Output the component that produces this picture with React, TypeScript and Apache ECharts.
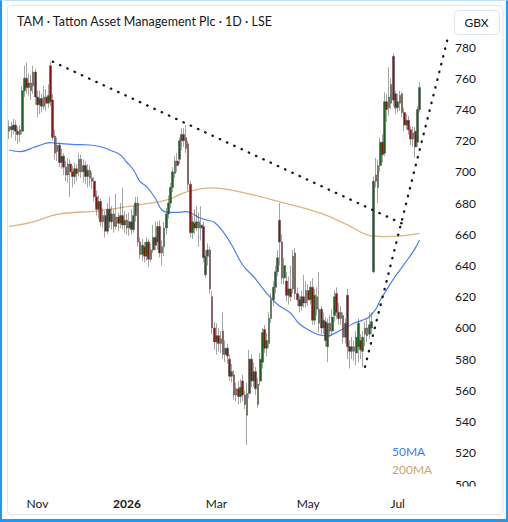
import React, { useEffect, useRef } from 'react';
import * as echarts from 'echarts';

const START_DATE = '2025-10-15';
const HOLIDAYS = ['2025-12-25', '2025-12-26', '2026-01-01', '2026-04-03', '2026-04-06', '2026-05-04', '2026-05-25'];
const TOTAL_SLOTS = 202;

// [open, close, low, high]
const ohlc: number[][] = [
  [726, 729, 721, 733], [729, 727, 722, 732], [727, 730, 724, 734], [730, 726, 720, 733], [726, 724, 718, 729],
  [724, 727, 719, 730], [726, 752, 724, 755], [752, 760, 748, 768], [760, 754, 750, 770], [754, 757, 749, 763],
  [757, 752, 746, 762], [755, 764, 750, 768], [764, 748, 743, 766], [748, 743, 735, 752], [743, 747, 737, 752],
  [747, 742, 738, 750], [742, 748, 740, 755], [748, 744, 739, 753], [744, 749, 741, 756], [768, 745, 742, 770.5],
  [746, 722, 720, 750], [723, 712, 708, 727], [713, 717, 707, 722], [717, 706, 703, 719], [706, 710, 702, 715],
  [710, 703, 698, 712], [703, 698, 694, 707], [698, 705, 693, 709], [705, 700, 684, 708], [700, 697, 690, 704],
  [697, 702, 692, 706], [702, 699, 694, 705], [700, 708, 697, 712], [708, 700, 696, 711], [700, 704, 693, 708],
  [704, 697, 692, 707], [697, 701, 690, 705], [701, 696, 691, 704], [696, 694, 689, 700], [694, 684, 681, 697],
  [684, 676, 672, 688], [676, 681, 670, 685], [681, 668, 665, 683], [668, 672, 664, 677], [672, 662, 658, 675],
  [662, 676, 660, 680], [676, 668, 664, 684], [668, 673, 663, 678], [673, 665, 661, 676], [665, 671, 663, 686],
  [671, 667, 662, 674], [667, 672, 664, 680], [672, 666, 663, 690], [666, 669, 661, 675], [669, 664, 660, 673],
  [664, 668, 659, 674], [668, 663, 660, 676], [663, 672, 661, 678], [672, 680, 668, 684], [680, 655, 652, 684],
  [655, 647, 644, 658], [647, 653, 643, 657], [652, 646, 642, 655], [646, 655, 643, 658], [655, 644, 639, 657],
  [644, 650, 642, 654], [650, 658, 648, 666], [658, 653, 650, 668], [655, 665, 650, 668], [665, 648, 645, 669],
  [648, 652, 640, 656], [652, 664, 646, 668], [664, 673, 660, 677], [673, 680, 670, 685], [680, 690, 677, 693],
  [690, 700, 687, 703], [699, 707, 696, 710], [707, 704, 700, 712], [708, 720, 705, 722], [720, 724, 714, 728],
  [724, 720, 716, 728], [722, 715, 712, 730], [718, 692, 688, 720], [692, 661, 658, 694], [661, 668, 657, 672],
  [667, 664, 660, 676], [664, 668, 662, 678], [668, 664, 652, 674], [664, 666, 656, 678], [665, 645, 642, 668],
  [634, 646, 632, 650], [646, 650, 640, 654], [650, 625, 622, 652], [620, 600, 596, 624], [600, 591, 586, 604],
  [591, 595, 583, 603], [595, 590, 585, 600], [590, 593, 584, 598], [598, 583, 580, 610], [583, 587, 578, 592],
  [587, 582, 577, 590], [580, 569, 566, 583], [569, 572, 565, 577], [570, 557, 554, 573], [557, 561, 553, 565],
  [561, 556, 551, 566], [556, 562, 552, 567], [566, 557, 553, 570], [557, 551, 548, 560], [544, 558, 525, 565],
  [558, 580, 555, 586], [580, 566, 562, 583], [566, 572, 562, 578], [572, 561, 557, 575], [551, 564, 549, 568],
  [566, 580, 563, 584], [578, 597, 574, 600], [599, 587, 584, 602], [587, 592, 582, 597], [590, 606, 587, 610],
  [606, 618, 603, 622], [618, 626, 614, 630], [626, 636, 622, 640], [636, 645, 633, 650], [669, 655, 640, 680],
  [655, 632, 628, 660], [632, 640, 628, 645], [630, 621, 617, 636], [621, 625, 615, 633], [625, 620, 617, 640],
  [625, 646, 622, 650], [648, 622, 618, 651], [622, 618, 614, 626], [618, 614, 610, 621], [614, 620, 611, 624],
  [620, 616, 613, 634], [616, 624, 613, 630], [624, 618, 614, 628], [618, 626, 615, 630], [626, 605, 602, 632],
  [605, 621, 602, 625], [620, 612, 608, 626], [603, 612, 597, 636], [612, 600, 596, 614], [600, 605, 596, 610],
  [604, 592, 588, 607], [588, 603, 578, 606], [603, 598, 594, 608], [598, 607, 595, 612], [608, 620, 604, 624],
  [622, 610, 606, 626], [610, 606, 602, 616], [606, 610, 602, 614], [608, 594, 590, 610], [594, 603, 590, 606],
  [621, 588, 580, 625], [588, 585, 574, 592], [585, 588, 580, 594], [588, 585, 579, 592], [584, 594, 576, 598],
  [588, 603, 578, 606], [592, 586, 580, 596], [585, 594, 575, 598], [600, 596, 588, 604], [595, 600, 591, 606],
  [596, 602, 593, 610], [600, 604, 596, 610], [636, 694, 635, 697], [698, 694, 690, 709], [690, 704, 680, 708],
  [704, 719, 700, 722], [719, 711, 706, 724], [712, 745, 710, 751], [745, 740, 732, 750], [741, 748, 736, 767],
  [744, 756, 740, 760], [774, 746, 742, 776], [750, 741, 737, 752], [741, 745, 738, 750], [744, 749, 739, 752],
  [750, 738, 735, 751], [738, 730, 726, 741], [730, 733, 727, 737], [733, 727, 724, 736], [727, 721, 717, 729],
  [721, 725, 716, 729], [726, 716, 709, 729], [719, 740, 716, 742], [740, 754, 738, 757.6],
];

// [bar index, value] readings of the moving averages
const ma50Points: number[][] = [
  [0, 714], [5, 713], [12, 716], [19, 718.7], [22, 718.3], [30, 717.5], [37, 717.2], [42, 716.1], [47, 713.5],
  [51, 710.8], [54, 706], [57, 701.2], [60, 693.7], [63, 690.5], [67, 683.1], [70, 675.6], [74, 674], [78, 674.1],
  [81, 674.5], [85, 672.4], [87, 670.6], [91, 669], [94, 667.7], [98, 661.7], [102, 653.1], [107, 640.3],
  [112, 632.8], [115, 627.5], [118, 622.2], [123, 615], [129, 609.4], [133, 602.5], [140, 596.6], [143, 595.3],
  [146, 594.8], [149, 596.5], [152, 598.7], [158, 603], [162, 605], [165, 607.2], [168, 612], [170, 617.9],
  [173, 624.5], [176, 631.3], [180, 639], [183, 644.8], [186, 651], [188, 656.3],
];
const ma200Points: number[][] = [
  [0, 665], [11, 668], [22, 672.8], [42, 675.2], [60, 679], [71, 681.5], [76, 684], [82, 687.5], [93, 689.8],
  [103, 688], [112, 685.2], [125, 680.5], [143, 673.4], [155, 666], [166, 659], [173, 658.5], [188, 660.6],
];

const trendDown: number[][] = [[20, 770.6], [182, 665.6]];
const trendUp: number[][] = [[163, 575], [201, 786]];

const MONTH_LABELS: Record<number, string> = { 10: 'Nov', 0: '2026', 2: 'Mar', 4: 'May', 6: 'Jul' };
const Y_MIN = 500;
const Y_MAX = 780;
const Y_STEP = 20;

function tradingDays(start: string, n: number): string[] {
  const out: string[] = [];
  const d = new Date(start + 'T00:00:00Z');
  while (out.length < n) {
    const dow = d.getUTCDay();
    const iso = d.toISOString().slice(0, 10);
    if (dow !== 0 && dow !== 6 && !HOLIDAYS.includes(iso)) out.push(iso);
    d.setUTCDate(d.getUTCDate() + 1);
  }
  return out;
}

export default function App() {
  const ref = useRef<HTMLDivElement>(null);
  useEffect(() => {
    if (!ref.current) return;
    const chart = echarts.init(ref.current, undefined, { renderer: 'svg' });
    const dates = tradingDays(START_DATE, TOTAL_SLOTS);
    const labelAt: Record<number, string> = {};
    let prev = -1;
    dates.forEach((d, i) => {
      const m = parseInt(d.slice(5, 7), 10) - 1;
      if (i > 0 && m !== prev && MONTH_LABELS[m] !== undefined) labelAt[i] = MONTH_LABELS[m];
      prev = m;
    });
    const lastClose = ohlc[ohlc.length - 1][1];
    const font = 'Lato';
    chart.setOption({
      animation: false,
      backgroundColor: '#ffffff',
      grid: { left: 8, right: 59, top: 47, bottom: 38 },
      xAxis: {
        type: 'category',
        data: dates,
        boundaryGap: true,
        axisLine: { show: false },
        axisTick: { show: false },
        splitLine: { show: false },
        axisLabel: {
          interval: (i: number) => labelAt[i] !== undefined,
          formatter: (_v: string, i: number) => {
            const t = labelAt[i] || '';
            return t === '2026' ? '{b|2026}' : t;
          },
          color: '#131722',
          fontSize: 12,
          fontFamily: font,
          margin: 13,
          rich: { b: { fontWeight: 'bold', fontSize: 12, fontFamily: font, color: '#131722' } },
        },
      },
      yAxis: {
        type: 'value',
        position: 'right',
        min: Y_MIN,
        max: Y_MAX,
        interval: Y_STEP,
        axisLine: { show: false },
        axisTick: { show: false },
        splitLine: { show: false },
        axisLabel: { color: '#131722', fontSize: 12, fontFamily: font, margin: 6 },
      },
      series: [
        {
          type: 'line',
          data: ma200Points,
          smooth: 0.4,
          showSymbol: false,
          lineStyle: { color: '#dcb382', width: 1.3 },
          z: 1,
        },
        {
          type: 'line',
          data: ma50Points,
          smooth: 0.4,
          showSymbol: false,
          lineStyle: { color: '#4b7ff2', width: 1.2 },
          z: 1,
        },
        {
          type: 'candlestick',
          data: ohlc,
          barWidth: 2.2,
          z: 3,
          itemStyle: {
            color: '#15651f',
            color0: '#8e0f0f',
            borderColor: '#4a4a4a',
            borderColor0: '#4a4a4a',
            borderWidth: 0.5,
          },
          markLine: {
            silent: true,
            symbol: ['none', 'none'],
            data: [{ yAxis: lastClose }],
            lineStyle: { opacity: 0 },
            label: {
              show: true,
              position: 'end',
              distance: 2,
              formatter: String(lastClose),
              backgroundColor: '#43a047',
              color: '#ffffff',
              fontSize: 12,
              fontFamily: font,
              padding: [4, 5, 3, 5],
              borderRadius: 2,
            },
          },
        },
        {
          type: 'line',
          data: trendDown,
          showSymbol: false,
          clip: false,
          lineStyle: { color: '#131722', width: 2.3, type: [0.5, 7.5], cap: 'round' },
          z: 4,
        },
        {
          type: 'line',
          data: trendUp,
          showSymbol: false,
          clip: false,
          lineStyle: { color: '#131722', width: 2.3, type: [0.5, 7.5], cap: 'round' },
          z: 4,
        },
      ],
      graphic: [
        {
          type: 'rect',
          shape: { x: 7.5, y: 5.5, width: 495.5, height: 509, r: 4 },
          style: { fill: 'none', stroke: '#e0e3eb', lineWidth: 1 },
          silent: true,
          z: 0,
        },
        {
          type: 'rect',
          shape: { x: 452, y: 486.5, width: 30, height: 8 },
          style: { fill: '#ffffff' },
          silent: true,
          z: 100,
        },
        {
          type: 'text',
          x: 17,
          y: 21,
          style: { text: 'TAM · Tatton Asset Management Plc · 1D · LSE', fontSize: 12.5, fontFamily: font, fill: '#131722', verticalAlign: 'middle' },
          z: 100,
        },
        {
          type: 'rect',
          shape: { x: 454.5, y: 10.5, width: 45, height: 24, r: 4 },
          style: { fill: '#ffffff', stroke: '#e0e3eb', lineWidth: 1 },
          z: 100,
        },
        {
          type: 'text',
          x: 476.5,
          y: 22.5,
          style: { text: 'GBX', fontSize: 12, fontFamily: font, fill: '#131722', align: 'center', verticalAlign: 'middle' },
          z: 101,
        },
        {
          type: 'text',
          x: 392,
          y: 451,
          style: { text: '50MA', fontSize: 12, fontFamily: font, fill: '#3f7bf2', verticalAlign: 'middle' },
          z: 100,
        },
        {
          type: 'text',
          x: 392,
          y: 469,
          style: { text: '200MA', fontSize: 12, fontFamily: font, fill: '#c9a46c', verticalAlign: 'middle' },
          z: 100,
        },
      ],
    });
    return () => chart.dispose();
  }, []);
  return (
    <div style={{ position: 'fixed', left: 0, top: 0, width: 508, height: 522 }}>
      <div ref={ref} style={{ position: 'absolute', left: 0, top: 0, width: 508, height: 522 }} />
      <div
        style={{
          position: 'absolute', left: 0, top: 0, width: 508, height: 522, boxSizing: 'border-box',
          borderLeft: '2px solid #2196f3', borderRight: '2px solid #2196f3', borderBottom: '3px solid #2196f3',
          borderTop: '1px solid #bfe0fb', pointerEvents: 'none',
        }}
      />
    </div>
  );
}
